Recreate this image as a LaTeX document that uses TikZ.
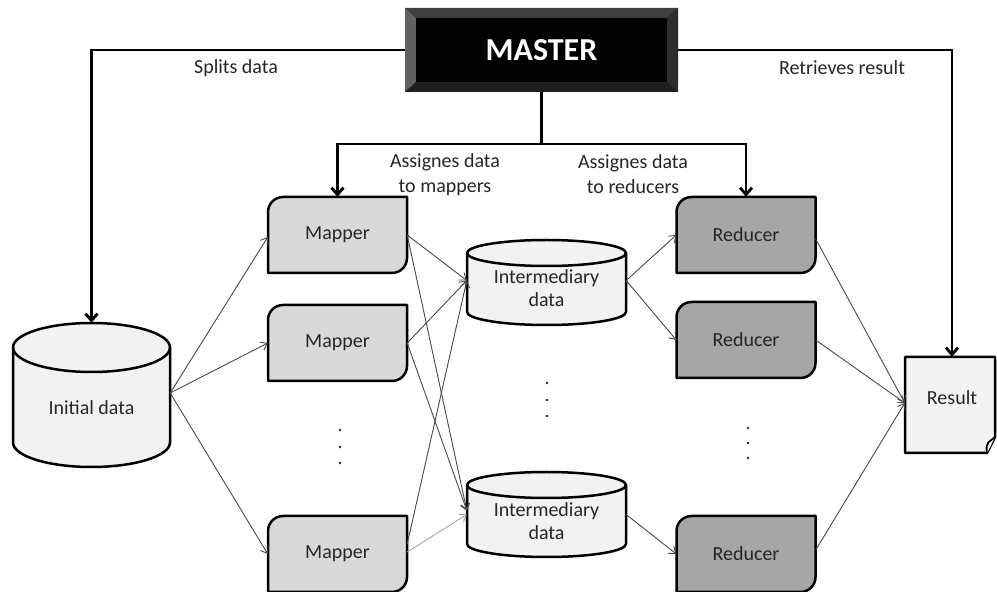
\documentclass[tikz,border=0pt]{standalone}
\usepackage{fontspec}
\setmainfont{Carlito}
\usetikzlibrary{arrows.meta,calc}
\definecolor{mapfill}{HTML}{D9D9D9}
\definecolor{redfill}{HTML}{A6A6A6}
\definecolor{datafill}{HTML}{F2F2F2}
\definecolor{txt}{HTML}{262626}
\definecolor{conn}{HTML}{4A4A4A}
\definecolor{connlight}{HTML}{A8A8A8}
\tikzset{
  boxline/.style={draw=black, line width=2.5pt, line join=round},
  boxtext/.style={inner sep=0pt, minimum width=139pt, minimum height=76pt, text=txt,
     font=\fontsize{20}{24}\selectfont},
  anchorbox/.style={inner sep=0pt, draw=none},
  lbl/.style={inner sep=0pt, text=txt, align=center, font=\fontsize{20}{25}\selectfont},
  thickarrow/.style={draw=black, line width=2.8pt, -{Straight Barb[length=7pt,width=12pt]}},
  thickline/.style={draw=black, line width=2.8pt},
  thinarrow/.style={draw=conn, line width=0.9pt, -{Straight Barb[length=6pt,width=9pt]}},
  lightarrow/.style={draw=connlight, line width=0.9pt, -{Straight Barb[length=6pt,width=9pt]}},
}
% name, cx, cy, fill, text
\newcommand\procbox[5]{%
  \draw[boxline, fill=#4] (#2-69.5,#3-38) -- (#2-69.5,#3+23)
     arc[start angle=180,end angle=90,radius=15pt] -- (#2+69.5,#3+38)
     -- (#2+69.5,#3-23) arc[start angle=0,end angle=-90,radius=15pt] -- cycle;
  \node[boxtext] (#1) at (#2,#3) {#5};}
% name, cx, halfwidth, bottomY, topY, ry
\newcommand\datacyl[6]{%
  \draw[boxline, fill=datafill] (#2-#3,#5-#6) -- (#2-#3,#4+#6)
     arc[start angle=180,end angle=360,x radius=#3,y radius=#6]
     -- (#2+#3,#5-#6) arc[start angle=0,end angle=180,x radius=#3,y radius=#6] -- cycle;
  \draw[boxline] (#2-#3,#5-#6) arc[start angle=180,end angle=360,x radius=#3,y radius=#6];
  \node[anchorbox, minimum width=2*#3, minimum height=#5-#4] (#1) at (#2,{(#4+#5)/2}) {};}
\begin{document}
\begin{tikzpicture}[x=1pt,y=1pt]
\useasboundingbox[fill=white] (0,0) rectangle (997,592);

% MASTER bevelled box
\fill[black] (405,500) rectangle (678,584);
\fill[black!75] (405,584) -- (678,584) -- (667,574) -- (416,574) -- cycle;
\fill[black!62] (405,500) -- (405,584) -- (416,574) -- (416,510) -- cycle;
\fill[black!82] (678,500) -- (678,584) -- (667,574) -- (667,510) -- cycle;
\fill[black!88] (405,500) -- (678,500) -- (667,510) -- (416,510) -- cycle;
\fill[black] (416,510) rectangle (667,574);
\node[inner sep=0pt, minimum width=273pt, minimum height=84pt, text=white,
      font=\bfseries\fontsize{32}{38}\selectfont] (Master) at (541.5,542) {MASTER};

% Mappers and reducers
\procbox{M1}{337.5}{357}{mapfill}{Mapper}
\procbox{M2}{337.5}{249}{mapfill}{Mapper}
\procbox{M3}{337.5}{38}{mapfill}{Mapper}
\procbox{R1}{746}{357}{redfill}{Reducer}
\procbox{R2}{746}{252}{redfill}{Reducer}
\procbox{R3}{746}{38}{redfill}{Reducer}

% Data stores
\datacyl{Init}{91.5}{78.5}{125}{269}{24.5}
\node[lbl] (inittxt) at (91.5,184) {Initial data};
\datacyl{Int1}{546.5}{79.5}{267}{352}{13}
\node[lbl, font=\fontsize{20}{23}\selectfont] (int1txt) at (546.5,304) {Intermediary\\data};
\datacyl{Int2}{546.5}{79.5}{35}{120}{13}
\node[lbl, font=\fontsize{20}{23}\selectfont] (int2txt) at (546.5,70.5) {Intermediary\\data};

% Result document
\draw[boxline, fill=datafill] (905,235) -- (995,235) -- (995,155) -- (987,139) -- (905,139) -- cycle;
\draw[boxline, fill=datafill, line width=1.8pt] (995,155) .. controls (990,150) and (985,151) .. (987,139);
\node[anchorbox, minimum width=90pt, minimum height=96pt] (Result) at (950,187) {};
\node[lbl] (restxt) at (952,194) {Result};

% Labels
\node[lbl] (splits) at (236,524) {Splits data};
\node[lbl] (retr) at (842,524) {Retrieves result};
\node[lbl] (asm) at (445,417.5) {Assignes data\\to mappers};
\node[lbl] (asr) at (633,417.5) {Assignes data\\to reducers};

% Master connectors
\draw[thickarrow] (Master.west) -| (Init.north);
\draw[thickarrow] (Master.east) -| ([xshift=2pt]Result.north);
\coordinate (fork) at (541.5,448);
\draw[thickline] (Master.south) -- (fork);
\draw[thickarrow] (fork) -| (M1.north);
\draw[thickarrow] (fork) -| (R1.north);

% Data flow
\draw[thinarrow] ([yshift=2pt]Init.east) -- ([yshift=-2pt]M1.west);
\draw[thinarrow] ([yshift=2pt]Init.east) -- (M2.west);
\draw[thinarrow] ([yshift=2pt]Init.east) -- (M3.west);

\draw[thinarrow] (M1.east) -- ([yshift=2pt]Int1.west);
\draw[thinarrow] (M1.east) -- ([yshift=4pt]Int2.west);
\draw[thinarrow] (M2.east) -- ([yshift=2pt]Int1.west);
\draw[thinarrow] (M2.east) -- ([yshift=4pt]Int2.west);
\draw[thinarrow] ([yshift=10pt]M3.east) -- ([yshift=2pt]Int1.west);
\draw[lightarrow] ([yshift=2pt]M3.east) -- (Int2.west);

\draw[thinarrow] ([yshift=2pt]Int1.east) -- (R1.west);
\draw[thinarrow] ([yshift=2pt]Int1.east) -- (R2.west);
\draw[thinarrow] (Int2.east) -- (R3.west);

\draw[thinarrow] ([yshift=-4pt]R1.east) -- ([yshift=2pt]Result.west);
\draw[thinarrow] (R2.east) -- ([yshift=2pt]Result.west);
\draw[thinarrow] ([yshift=4pt]R3.east) -- ([yshift=2pt]Result.west);

% Ellipsis dots
\foreach \yy in {162,145,129} \fill[txt] (340,\yy) circle[radius=1.3pt];
\foreach \yy in {209,192,176} \fill[txt] (547,\yy) circle[radius=1.3pt];
\foreach \yy in {164,149,134} \fill[txt] (748,\yy) circle[radius=1.3pt];
\end{tikzpicture}
\end{document}
